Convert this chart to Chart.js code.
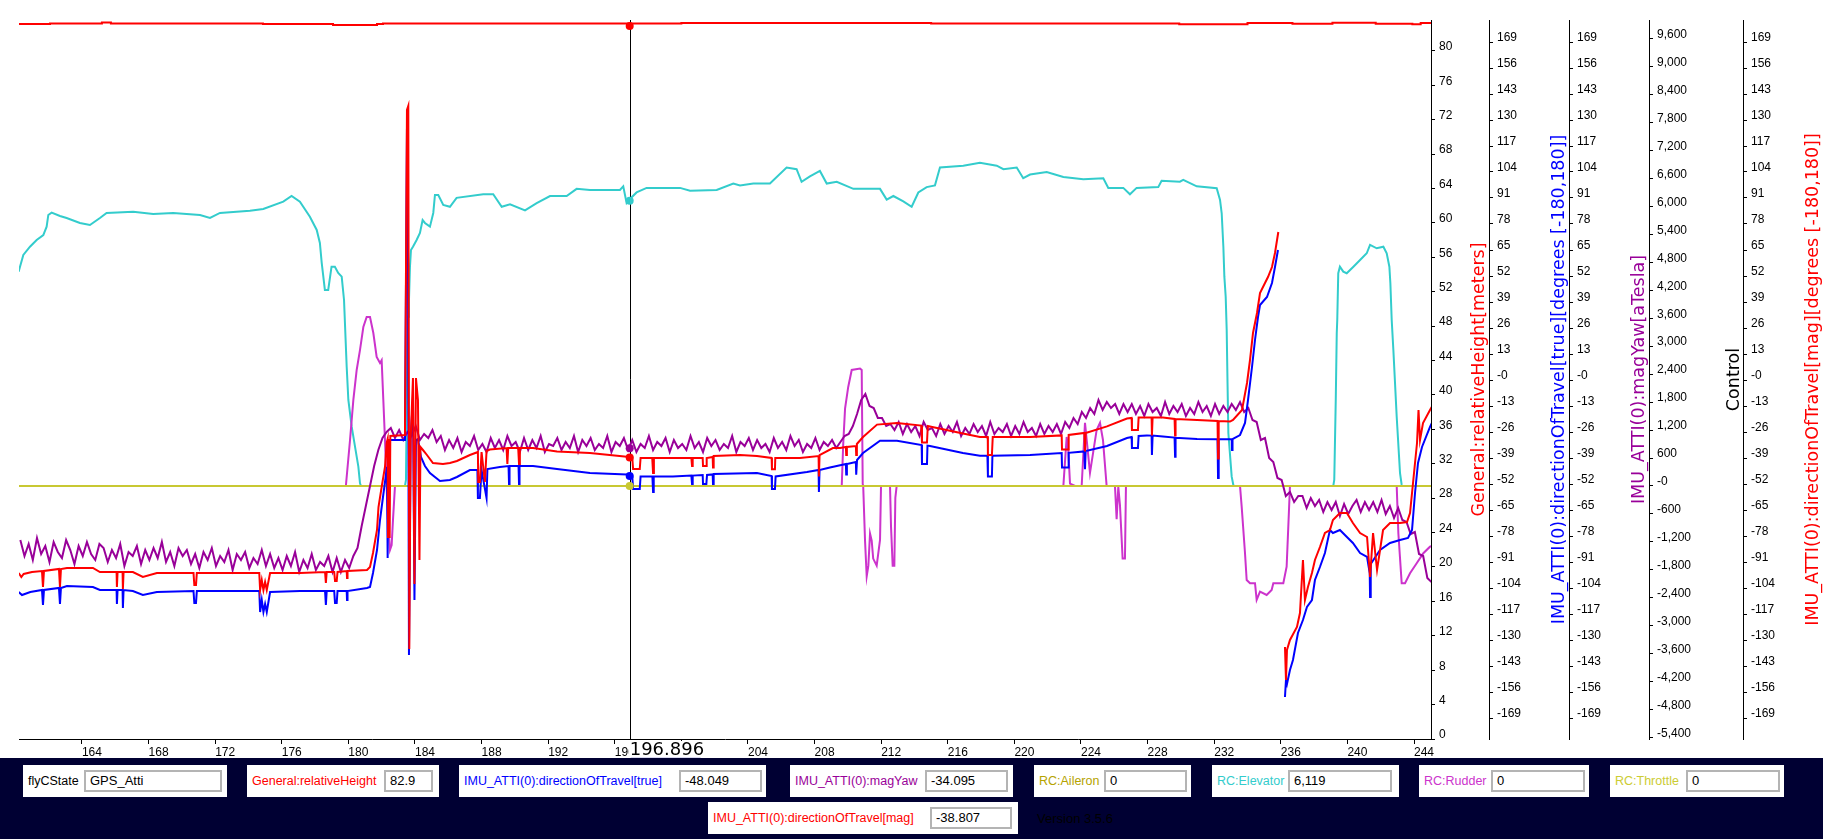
<!DOCTYPE html>
<html>
<head>
<meta charset="utf-8">
<script src="https://cdn.jsdelivr.net/npm/chart.js@4.4.1/dist/chart.umd.min.js"></script>
<style>
  html, body { margin: 0; padding: 0; background: #fff; }
  #wrap { position: relative; width: 1823px; height: 839px; overflow: hidden; }
  #plot { position: absolute; left: 0; top: 0; }
  #panel { position: absolute; left: 0; top: 758px; width: 1823px; height: 81px; background: #000033;
           font-family: "Liberation Sans", Arial, sans-serif; font-size: 12.5px; }
  .box { position: absolute; background: #fff; height: 32px; }
  .lbl { position: absolute; left: 5px; top: 0; line-height: 32px; white-space: nowrap; }
  .val { position: absolute; top: 5px; height: 22px; box-sizing: border-box; border: 2px solid #b4b4b4;
         line-height: 18px; padding-left: 4px; color: #000; font-size: 13px; white-space: nowrap; }
  #version { position: absolute; left: 1037px; top: 53px; color: #000; font-size: 13px; }
</style>
</head>
<body>
<div id="wrap">
  <canvas id="plot" width="1823" height="758"></canvas>
  <div id="panel"><div id="version">Version 3.5.6</div></div>
</div>
<script>
// x axis (seconds) and tick labels
const xTicks = [164, 168, 172, 176, 180, 184, 188, 192, 196, 200, 204, 208, 212, 216, 220, 224, 228, 232, 236, 240, 244];
const heightTicks = [0, 4, 8, 12, 16, 20, 24, 28, 32, 36, 40, 44, 48, 52, 56, 60, 64, 68, 72, 76, 80];
const degTicks = [169, 156, 143, 130, 117, 104, 91, 78, 65, 52, 39, 26, 13, 0, -13, -26, -39, -52, -65, -78, -91, -104, -117, -130, -143, -156, -169];
const controlTicks = [9600, 9000, 8400, 7800, 7200, 6600, 6000, 5400, 4800, 4200, 3600, 3000, 2400, 1800, 1200, 600, 0, -600, -1200, -1800, -2400, -3000, -3600, -4200, -4800, -5400];

// cursor
const cursorT = 196.896;
const flyCState = 'GPS_Atti';
const panelNames = ['General:relativeHeight', 'IMU_ATTI(0):directionOfTravel[true]', 'IMU_ATTI(0):magYaw', 'RC:Aileron', 'RC:Elevator', 'RC:Rudder', 'RC:Throttle', 'IMU_ATTI(0):directionOfTravel[mag]'];
const panelValues = [82.9, -48.049, -34.095, 0, 6119, 0, 0, -38.807];

// General:relativeHeight [meters]
const relHeight = [[160.2, 83.14], [162.08, 83.14], [162.08, 83.2], [165.2, 83.2], [165.2, 83.3], [165.74, 83.3], [165.74, 83.2], [174.87, 83.2], [174.87, 83.13], [179.08, 83.13], [179.08, 83.03], [181.72, 83.03], [181.72, 83.13], [182.08, 83.13], [182.08, 83.2], [200.0, 83.2], [200.0, 83.25], [215.0, 83.25], [215.0, 83.2], [229.9, 83.2], [229.9, 83.1], [234.0, 83.1], [234.0, 83.25], [236.7, 83.25], [236.7, 83.17], [239.1, 83.17], [239.1, 83.29], [241.7, 83.29], [241.7, 83.17], [243.9, 83.17], [243.9, 83.1], [244.4, 83.1], [244.4, 83.25], [245.1, 83.25]];

// IMU_ATTI(0):directionOfTravel[true]
const dirTrue = [[160.2, -106], [160.4, -107.5], [160.9, -106], [161.6, -105], [161.66, -112.5], [161.72, -105], [162.62, -104], [162.68, -112], [162.74, -104], [163.1, -103], [164.66, -103.5], [165.08, -105], [166.08, -105], [166.1, -112], [166.14, -105], [166.44, -105], [166.46, -114], [166.5, -105], [167.06, -105.5], [167.66, -107.5], [168.5, -106], [170.7, -105.5], [170.75, -111.5], [170.85, -111.5], [170.9, -105.5], [174.65, -105.5], [174.7, -116], [174.8, -110], [174.9, -116], [175.0, -112], [175.1, -116], [175.3, -106], [177.1, -105.5], [178.6, -105.5], [178.65, -112.5], [178.7, -105.5], [179.15, -105.5], [179.2, -111.5], [179.3, -111.5], [179.35, -105.5], [179.9, -105.5], [179.92, -110], [179.95, -105.5], [181.12, -104], [181.3, -103.5], [181.48, -96.5], [181.72, -85], [181.9, -70], [182.08, -58.5], [182.32, -43.5], [182.36, -89], [182.4, -40], [182.5, -30], [183.4, -30], [183.52, 125.5], [183.58, 60], [183.64, -137.5], [183.74, -30], [183.88, -8.5], [183.97, -110], [184.06, -30], [184.18, -29.5], [184.36, -38.5], [184.6, -43], [184.9, -46.5], [185.5, -50.5], [186.1, -50], [186.52, -48.5], [187.3, -45], [187.75, -45], [187.78, -59], [187.9, -59], [188.0, -45], [188.3, -59], [188.35, -44.5], [189.1, -43.5], [189.62, -43], [189.65, -52], [189.68, -43], [190.22, -43], [190.25, -52], [190.28, -43], [191.09, -43], [192.53, -44.5], [194.51, -46.5], [196.73, -47.3], [197.05, -48], [197.1, -54.5], [197.3, -54.5], [197.5, -54.5], [197.55, -48.2], [198.26, -48.2], [198.3, -56], [198.34, -48.2], [199.49, -48.2], [200.6, -47.8], [200.64, -52], [200.68, -47.8], [201.28, -47.5], [201.3, -52], [201.5, -52], [201.54, -47.5], [201.88, -47.2], [201.9, -52], [201.94, -47], [204.54, -46.5], [205.42, -48], [205.44, -54.5], [205.62, -54.5], [205.66, -48.2], [207.54, -46], [208.24, -45], [208.26, -56], [208.3, -45], [208.92, -43.75], [209.88, -42], [209.9, -47.3], [209.94, -42], [210.48, -41], [210.5, -47.3], [210.55, -40], [210.91, -36.5], [211.93, -30.4], [212.95, -30.4], [214.43, -32.5], [214.45, -42], [214.75, -42], [214.78, -32.8], [214.93, -33], [216.91, -36.5], [217.93, -37.9], [218.38, -37.9], [218.41, -48.2], [218.65, -48.2], [218.68, -37.9], [220.94, -37.5], [222.84, -36.5], [222.86, -43.75], [223.22, -43.75], [223.26, -36.4], [224.2, -35.7], [224.24, -44.6], [224.28, -35.5], [225.56, -33], [226.76, -29], [227.04, -28.5], [227.06, -34], [227.42, -34], [227.46, -28], [227.96, -27.7], [228.24, -27.8], [228.26, -37.5], [228.3, -27.8], [228.92, -28.2], [229.62, -28.8], [229.65, -38.4], [229.68, -28.9], [230.97, -29.5], [232.2, -29.6], [232.23, -49], [232.27, -29.6], [233.05, -29.6], [233.07, -35], [233.1, -29.6], [233.55, -27.5], [233.85, -21.5], [234.03, -10], [234.27, 6.5], [234.45, 20], [234.63, 31.5], [234.75, 37.5], [235.17, 41.5], [235.47, 48.5], [235.65, 56.5], [235.83, 65], [236.0, null], [236.25, -158.5], [236.31, -150], [236.37, -152], [236.55, -145], [236.73, -140], [237.03, -126.5], [237.33, -120], [237.57, -113.5], [237.87, -110], [238.05, -100], [238.35, -93.5], [238.65, -86.5], [238.95, -75], [239.13, -76.5], [239.55, -75], [239.97, -78.5], [240.33, -81.5], [240.76, -86.5], [241.18, -88.5], [241.34, -96.5], [241.36, -108.5], [241.4, -92], [241.96, -85], [242.56, -81.5], [243.16, -80], [243.64, -79], [243.88, -75], [244.06, -56.5], [244.24, -41.5], [244.48, -33.5], [244.96, -23.5], [245.1, -21]];

// IMU_ATTI(0):directionOfTravel[mag]
const dirMag = [[160.2, -96.5], [160.36, -98.5], [160.5, -97], [161.0, -96], [161.6, -95.5], [161.66, -103.5], [161.72, -95.5], [162.62, -94.5], [162.68, -103.5], [162.74, -94.5], [163.1, -94], [164.66, -94], [165.08, -96], [166.08, -96], [166.1, -103.5], [166.14, -96], [166.44, -96], [166.46, -104.5], [166.5, -96], [167.06, -96], [167.66, -98.5], [168.5, -96.5], [170.7, -96.5], [170.75, -102.5], [170.85, -102.5], [170.9, -96.5], [174.65, -96.5], [174.7, -105], [174.8, -100], [174.9, -105], [175.0, -101], [175.1, -105], [175.3, -96.5], [177.1, -96.5], [178.6, -96], [178.65, -101.5], [178.7, -96], [179.15, -96], [179.2, -100.5], [179.3, -100.5], [179.35, -96], [179.9, -95.5], [179.92, -99], [179.95, -95.5], [181.12, -95], [181.3, -93.5], [181.48, -86.5], [181.72, -75], [181.81, -63.5], [182.0, -53.5], [182.2, -43.5], [182.3, -31.5], [182.36, -29.5], [182.38, -79], [182.42, -29.5], [182.48, -79], [182.52, -28], [183.4, -27.5], [183.52, 135], [183.6, 137], [183.66, -134.5], [183.74, -30], [183.88, 1], [183.97, -102], [184.06, 1], [184.18, -10], [184.27, -90], [184.33, -33.5], [184.48, -35], [184.72, -37.5], [185.08, -41.5], [185.68, -42], [186.1, -41.5], [186.52, -40.5], [187.3, -37.5], [187.78, -36], [187.8, -51], [187.9, -51], [188.0, -36], [188.2, -51], [188.3, -35.5], [188.5, -34.8], [189.5, -34], [189.55, -42], [189.6, -34], [190.2, -34], [190.25, -42], [190.3, -34], [191.09, -34], [192.53, -35.7], [194.51, -36.5], [196.73, -38.4], [197.05, -38.6], [197.1, -44.5], [197.3, -44.5], [197.5, -44.5], [197.55, -39], [198.25, -39], [198.3, -46.5], [198.35, -39], [200.6, -39], [200.64, -43], [200.68, -39], [201.28, -39], [201.3, -43], [201.5, -43], [201.52, -39], [201.88, -38.5], [201.9, -43.75], [201.94, -38], [203.52, -37.5], [204.54, -38], [205.42, -39], [205.44, -44.6], [205.62, -44.6], [205.64, -39], [207.12, -39], [208.24, -38], [208.26, -48.2], [208.3, -37.5], [209.1, -34], [209.53, -34], [209.88, -33.5], [209.9, -37.5], [209.94, -33.5], [210.48, -33], [210.5, -37.5], [210.54, -32], [210.91, -28.5], [211.75, -22.3], [212.95, -21.5], [214.4, -22.8], [214.45, -31.25], [214.75, -31.25], [214.8, -23], [214.93, -23.2], [216.91, -26.8], [217.93, -28.5], [218.4, -28.5], [218.41, -37.5], [218.65, -37.5], [218.7, -28.5], [220.94, -28.5], [222.84, -27.7], [222.86, -34.8], [223.22, -34.8], [223.26, -27.5], [224.2, -26.5], [224.24, -35.7], [224.28, -26.5], [225.56, -23.2], [226.76, -19.3], [227.04, -19], [227.06, -25], [227.42, -25], [227.46, -18.8], [227.96, -18.75], [228.24, -18.75], [228.26, -27.7], [228.3, -18.75], [228.92, -18.75], [229.62, -19.5], [229.65, -27.7], [229.68, -19.5], [230.97, -20], [232.2, -20.5], [232.23, -39.3], [232.27, -20.5], [232.95, -20.8], [233.13, -20], [233.67, -15], [233.97, -1.5], [234.15, 10], [234.33, 23.5], [234.57, 33.5], [234.75, 43.5], [235.05, 48.5], [235.23, 51.5], [235.47, 56.5], [235.65, 63.5], [235.85, 74], [236.0, null], [236.25, -133.5], [236.31, -150], [236.37, -135], [236.55, -130], [236.97, -123.5], [237.15, -116.5], [237.33, -90], [237.45, -110], [237.63, -103.5], [237.87, -96.5], [238.05, -90], [238.35, -83.5], [238.65, -76.5], [238.95, -75], [239.13, -70], [239.55, -66.5], [239.97, -66.5], [240.33, -71.5], [240.76, -76.5], [241.18, -78.5], [241.36, -98.5], [241.54, -76.5], [241.78, -95], [242.14, -75], [242.56, -71.5], [243.16, -71.5], [243.58, -71], [243.76, -66.5], [243.94, -51.5], [244.18, -31.5], [244.27, -15], [244.36, -30], [244.54, -21.5], [244.96, -15], [245.1, -13]];

// IMU_ATTI(0):magYaw, sampled every 0.25 s from 160.3
const magYawStart = 160.3;
const magYawStep = 0.25;
const magYaw = [
  -80, -88, -82, -90, -79, -87, -83, -91, -81, -86, -89, -80, -85, -92, -83, -88, -81, -87, -90, -82,
  -84, -91, -85, -89, -82, -93, -86, -88, -83, -92, -85, -90, -84, -89, -81, -91, -86, -93, -84, -88,
  -85, -92, -87, -94, -86, -90, -84, -93, -88, -91, -85, -95, -87, -90, -86, -94, -89, -92, -85, -93,
  -87, -94, -89, -95, -88, -93, -86, -96, -90, -94, -87, -95, -91, -93, -88, -96,
  -89, -96, -90, -94,
  -88, -84, -73, -63, -53, -43, -35, -29, -26,
  -24, -29, -25, -30, -26, -28, -23, -30, -27, -29, -25, -31,
  -28, -35, -30, -34, -29, -36, -31, -33, -28, -35, -32, -36, -29, -34, -30, -35, -28, -33, -31, -36,
  -29, -35, -30, -34, -28, -36, -32, -33, -29, -35, -31, -34, -28, -36, -30, -33, -29, -35, -32, -34,
  -28, -36, -31, -33, -29, -35, -30, -36, -32, -34, -28, -35, -31, -33, -29, -36, -30, -34, -32, -35,
  -28, -34, -31, -36, -29, -33, -30, -35, -32, -34, -28, -36, -31, -33, -29, -35, -30, -34, -32, -36,
  -29, -34, -31, -35, -28, -33, -30, -36, -32, -34, -29, -35, -31, -33, -30, -34,
  -31, -28, -27, -23, -17, -10, -7, -13, -14, -19, -19, -23, -22, -25,
  -21, -27, -22, -26, -23, -28, -21, -25, -24, -28, -22, -27, -23, -26, -21, -28, -24, -27, -22, -26,
  -23, -28, -21, -27, -24, -26, -22, -28, -23, -27, -21, -26, -24, -28, -22, -27, -23, -26, -22, -27,
  -21, -24, -19, -22, -16, -19, -14, -17, -10, -15, -11, -14, -12, -17, -12, -16,
  -12, -17, -13, -18, -12, -16, -14, -18, -11, -17, -13, -16, -12, -18, -14, -17, -11, -16, -13, -18, -12, -17, -13, -16,
  -12, -15, -11, -16, -14, -20, -21, -30, -29, -39, -41, -49, -50, -58, -56, -61, -58,
  -58, -64, -59, -63, -60, -66, -61, -65, -61, -68, -62, -67, -63, -60, -66, -61, -65, -61, -66, -60, -67, -63, -69, -64,
  -70, -71, -77, -76, -87, -88, -99, -101
];

// RC:Elevator
const elevator = [[160.2, 4600], [160.28, 4706], [160.48, 4957], [160.88, 5135], [161.28, 5279], [161.68, 5386], [161.88, 5565], [161.98, 5816], [162.18, 5865], [162.68, 5794], [163.08, 5751], [163.88, 5644], [164.48, 5601], [165.08, 5751], [165.48, 5859], [167.08, 5887], [168.28, 5837], [169.48, 5859], [171.09, 5816], [171.69, 5751], [172.29, 5859], [174.09, 5908], [174.89, 5944], [176.09, 6101], [176.59, 6223], [177.09, 6101], [177.69, 5779], [178.1, 5494], [178.29, 5215], [178.4, 4786], [178.59, 4206], [178.79, 4206], [178.99, 4706], [179.19, 4706], [179.39, 4571], [179.6, 4492], [179.74, 3992], [179.9, 2560], [180.0, 1846], [180.2, 1273], [180.4, 843], [180.6, 414], [180.7, 58], [180.76, 0], [183.4, 0], [183.46, 129], [183.5, 1487], [183.54, 2919], [183.6, 3633], [183.64, 3992], [183.7, 4706], [183.76, 5065], [183.88, 5135], [184.1, 5279], [184.3, 5429], [184.46, 5708], [184.6, 5644], [184.9, 5565], [185.1, 5859], [185.2, 6245], [185.4, 6245], [185.7, 6030], [186.1, 5992], [186.5, 6183], [188.1, 6260], [188.7, 6260], [189.21, 5992], [189.71, 6045], [190.61, 5914], [191.31, 6069], [192.11, 6223], [193.11, 6223], [193.71, 6376], [194.51, 6352], [196.31, 6352], [196.51, 6430], [196.71, 6073], [196.85, 6138], [197.31, 6299], [197.91, 6397], [199.92, 6397], [200.52, 6337], [202.12, 6352], [203.12, 6490], [203.52, 6451], [204.32, 6490], [205.32, 6490], [206.32, 6835], [206.92, 6797], [207.22, 6528], [207.72, 6644], [208.32, 6760], [208.73, 6490], [209.33, 6528], [210.33, 6376], [211.93, 6376], [212.33, 6146], [212.73, 6223], [213.33, 6108], [213.83, 5992], [214.23, 6299], [214.73, 6414], [215.23, 6451], [215.53, 6835], [216.93, 6874], [217.93, 6934], [218.94, 6874], [219.34, 6797], [220.14, 6835], [220.53, 6605], [220.94, 6683], [221.94, 6736], [222.94, 6629], [224.14, 6582], [225.34, 6605], [225.64, 6397], [226.54, 6397], [226.94, 6260], [227.34, 6397], [228.64, 6414], [228.84, 6552], [229.94, 6530], [230.14, 6567], [230.95, 6430], [232.15, 6389], [232.35, 6138], [232.45, 5852], [232.55, 5135], [232.61, 4492], [232.69, 4062], [232.75, 3348], [232.8, 2210], [232.85, 1137], [233.05, 200], [233.15, 21], [233.19, 0], [239.15, 0], [239.21, 129], [239.3, 1846], [239.36, 3283], [239.39, 3562], [239.45, 4565], [239.55, 4706], [239.75, 4599], [239.96, 4565], [240.36, 4706], [240.76, 4850], [241.16, 4994], [241.36, 5172], [241.76, 5101], [242.16, 5135], [242.36, 4994], [242.52, 4706], [242.58, 4350], [242.66, 3562], [242.76, 2919], [242.96, 1487], [243.16, 273], [243.26, 21], [243.28, 0], [245.1, 0]];

// RC:Rudder
const rudder = [[160.2, 0], [179.85, 0], [180.1, 987], [180.3, 1846], [180.5, 2489], [180.7, 2919], [180.9, 3412], [181.1, 3627], [181.3, 3627], [181.5, 3283], [181.7, 2768], [181.9, 2640], [182.0, 2700], [182.1, 1846], [182.2, 987], [182.3, 0], [182.38, -730], [182.5, -1373], [182.6, -1266], [182.68, -730], [182.8, 0], [209.63, 0], [209.72, 901], [209.83, 1661], [210.02, 2125], [210.23, 2489], [210.73, 2519], [210.83, 2489], [210.89, 43], [210.92, 0], [211.03, -1174], [211.13, -1940], [211.23, -1710], [211.33, -1021], [211.43, -1174], [211.52, -1558], [211.73, -1710], [211.93, -1159], [211.99, 0], [212.53, 0], [212.59, -867], [212.69, -1710], [212.79, -1710], [212.85, -255], [212.93, 0], [222.94, 0], [223.14, 1052], [223.24, 751], [223.34, 52], [223.64, 0], [224.04, 0], [224.24, 1354], [224.54, 281], [224.94, 1202], [225.14, 1354], [225.32, 987], [225.54, 0], [226.04, 0], [226.14, -715], [226.24, -21], [226.34, -408], [226.5, -1558], [226.64, -1558], [226.7, 0], [233.55, 0], [233.65, -444], [233.85, -1444], [233.95, -2017], [234.15, -2088], [234.45, -2088], [234.55, -2446], [234.75, -2268], [235.15, -2339], [235.45, -2232], [235.55, -2088], [236.15, -2088], [236.35, -1732], [236.45, -873], [236.55, 0], [242.96, 0], [243.06, -1015], [243.26, -2088], [243.46, -2088], [243.76, -1873], [244.16, -1659], [244.56, -1444], [244.96, -1303], [245.1, -1280]];

// RC:Aileron and RC:Throttle
const aileron = [[160.2, 0], [245.1, 0]];
const throttle = [[160.2, 0], [245.1, 0]];

const toXY = arr => arr.map(([x, y]) => ({ x, y }));
const magYawXY = magYaw.map((v, i) => ({ x: magYawStart + i * magYawStep, y: v }));

const tickFont = { family: 'Liberation Sans', size: 12 };
const degLabel = v => (v === 0 ? '-0' : String(v));
const ctrlLabel = v => (v === 0 ? '-0' : v.toLocaleString('en-US'));

function sideAxis(weight, min, max, values, width, fmt) {
  return {
    type: 'linear', position: 'right', weight, min, max,
    afterBuildTicks: s => { s.ticks = values.map(v => ({ value: v })); },
    afterFit: s => { s.width = width; },
    grid: { drawOnChartArea: false, drawTicks: true, tickLength: 4, color: '#000' },
    border: { display: true, color: '#000', width: 1 },
    ticks: { color: '#000', font: tickFont, padding: 4, labelOffset: -4, autoSkip: false, callback: fmt }
  };
}

const axisTitles = [
  { id: 'yH', text: 'General:relativeHeight[meters]', color: '#ff0000', dx: 48 },
  { id: 'yT', text: 'IMU_ATTI(0):directionOfTravel[true][degrees [-180,180]]', color: '#0000ff', dx: 70 },
  { id: 'yM', text: 'IMU_ATTI(0):magYaw[aTesla]', color: '#990099', dx: 70 },
  { id: 'yC', text: 'Control', color: '#000000', dx: 85 },
  { id: 'yG', text: 'IMU_ATTI(0):directionOfTravel[mag][degrees [-180,180]]', color: '#ff0000', dx: 70 }
];

const overlay = {
  id: 'overlay',
  beforeDatasetsDraw(chart) {
    const { ctx, chartArea } = chart;
    const cx = Math.round(chart.scales.x.getPixelForValue(cursorT)) + 0.5;
    ctx.save();
    ctx.strokeStyle = '#000';
    ctx.lineWidth = 1;
    ctx.beginPath();
    ctx.moveTo(cx, chartArea.top);
    ctx.lineTo(cx, chartArea.bottom);
    ctx.stroke();
    ctx.restore();
  },
  afterDraw(chart) {
    const { ctx, chartArea } = chart;
    ctx.save();
    ctx.font = '17.5px "DejaVu Sans"';
    ctx.textAlign = 'center';
    ctx.textBaseline = 'middle';
    axisTitles.forEach(t => {
      const s = chart.scales[t.id];
      ctx.save();
      ctx.translate(s.left + t.dx, (chartArea.top + chartArea.bottom) / 2);
      ctx.rotate(-Math.PI / 2);
      ctx.fillStyle = t.color;
      ctx.fillText(t.text, 0, 0);
      ctx.restore();
    });
    // cursor time label over the x axis
    const cx = chart.scales.x.getPixelForValue(cursorT);
    ctx.fillStyle = '#fff';
    ctx.fillRect(cx - 1, chartArea.bottom + 2, 78, 17);
    ctx.fillStyle = '#d8d8f0';
    ctx.fillRect(cx + 1, chartArea.bottom + 18, 70, 1);
    ctx.font = '18px "DejaVu Sans"';
    ctx.textAlign = 'left';
    ctx.textBaseline = 'alphabetic';
    ctx.fillStyle = '#000';
    ctx.fillText(cursorT.toFixed(3), cx, chartArea.bottom + 16);
    ctx.restore();
  }
};

const line = (data, color, axis) => ({
  data, borderColor: color, backgroundColor: color, yAxisID: axis,
  borderWidth: 2, pointRadius: 0, tension: 0, spanGaps: false, fill: false
});
const dot = (value, color, axis) => ({
  data: [{ x: cursorT, y: value }], yAxisID: axis, showLine: false,
  pointRadius: 4, pointBackgroundColor: color, pointBorderWidth: 0, borderColor: color
});

new Chart(document.getElementById('plot'), {
  type: 'line',
  data: {
    datasets: [
      dot(panelValues[0], '#ff0000', 'yH'),
      dot(panelValues[7], '#ff0000', 'yG'),
      dot(panelValues[1], '#0000ff', 'yT'),
      dot(panelValues[2], '#990099', 'yM'),
      dot(panelValues[4], '#33cccc', 'yC'),
      dot(panelValues[6], '#c8c832', 'yC'),
      line(toXY(relHeight), '#ff0000', 'yH'),
      line(toXY(dirMag), '#ff0000', 'yG'),
      line(toXY(dirTrue), '#0000ff', 'yT'),
      line(magYawXY, '#990099', 'yM'),
      line(toXY(throttle), '#c8c832', 'yC'),
      line(toXY(aileron), '#b5a300', 'yC'),
      line(toXY(rudder), '#cc33cc', 'yC'),
      line(toXY(elevator), '#33cccc', 'yC')
    ]
  },
  options: {
    responsive: false,
    animation: false,
    devicePixelRatio: 1,
    layout: { padding: { left: 19, top: 20, right: 0, bottom: 0 } },
    plugins: { legend: { display: false }, tooltip: { enabled: false } },
    scales: {
      x: {
        type: 'linear', position: 'bottom', min: 160.22, max: 245.02,
        afterBuildTicks: s => { s.ticks = xTicks.map(v => ({ value: v })); },
        afterFit: s => { s.height = 19; },
        grid: { drawOnChartArea: false, drawTicks: true, tickLength: 5, color: '#000' },
        border: { display: true, color: '#000', width: 1 },
        ticks: { color: '#000', font: tickFont, align: 'start', padding: 1, maxRotation: 0, autoSkip: false }
      },
      yH: sideAxis(1, 0, 83.6, heightTicks, 58, v => String(v)),
      yT: sideAxis(2, -179.5, 180, degTicks, 80, degLabel),
      yM: sideAxis(3, -179.5, 180, degTicks, 80, degLabel),
      yC: sideAxis(4, -5430, 10000, controlTicks, 94, ctrlLabel),
      yG: sideAxis(5, -179.5, 180, degTicks, 80, degLabel)
    }
  },
  plugins: [overlay]
});

// info panel under the chart
const panel = document.getElementById('panel');
const boxes = [
  { name: 'flyCState', color: '#000000', text: flyCState, left: 23, width: 204, input: 61, inputW: 138, row: 0 },
  { name: panelNames[0], color: '#ff0000', text: panelValues[0], left: 247, width: 192, input: 137, inputW: 49, row: 0 },
  { name: panelNames[1], color: '#0000ff', text: panelValues[1], left: 459, width: 307, input: 220, inputW: 83, row: 0 },
  { name: panelNames[2], color: '#990099', text: panelValues[2], left: 790, width: 223, input: 135, inputW: 83, row: 0 },
  { name: panelNames[3], color: '#b5a300', text: panelValues[3], left: 1034, width: 157, input: 70, inputW: 83, row: 0 },
  { name: panelNames[4], color: '#33cccc', text: panelValues[4], left: 1212, width: 187, input: 76, inputW: 104, row: 0 },
  { name: panelNames[5], color: '#cc33cc', text: panelValues[5], left: 1419, width: 170, input: 72, inputW: 94, row: 0 },
  { name: panelNames[6], color: '#cccc33', text: panelValues[6], left: 1610, width: 174, input: 76, inputW: 94, row: 0 },
  { name: panelNames[7], color: '#ff0000', text: panelValues[7], left: 708, width: 310, input: 222, inputW: 82, row: 1 }
];
boxes.forEach(b => {
  const box = document.createElement('div');
  box.className = 'box';
  box.style.left = b.left + 'px';
  box.style.top = (b.row === 0 ? 7 : 44) + 'px';
  box.style.width = b.width + 'px';
  const lbl = document.createElement('div');
  lbl.className = 'lbl';
  lbl.style.color = b.color;
  lbl.textContent = b.name;
  const val = document.createElement('div');
  val.className = 'val';
  val.style.left = b.input + 'px';
  val.style.width = b.inputW + 'px';
  val.textContent = typeof b.text === 'number' ? b.text.toLocaleString('en-US', { maximumFractionDigits: 3 }) : b.text;
  box.appendChild(lbl);
  box.appendChild(val);
  panel.appendChild(box);
});
</script>
</body>
</html>
